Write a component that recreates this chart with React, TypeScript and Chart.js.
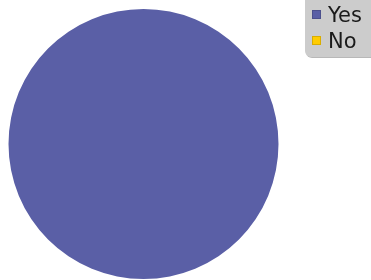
import React, { useEffect, useRef } from "react";
import { Chart, registerables } from "chart.js";

Chart.register(...registerables);

const categories = ["Yes", "No"];
const values = [100, 0];
const colors = ["#5a5fa6", "#ffcc00"];

const legendBoxPlugin = {
  id: "legendBox",
  afterDraw(chart: any) {
    const ctx = chart.ctx as CanvasRenderingContext2D;
    ctx.save();
    ctx.fillStyle = "#b8b8b8";
    ctx.beginPath();
    (ctx as any).roundRect(306, -10, 80, 68, 6);
    ctx.fill();
    ctx.fillStyle = "#cccccc";
    ctx.beginPath();
    (ctx as any).roundRect(305, -10, 80, 67, 6);
    ctx.fill();
    ctx.font = "21px 'DejaVu Sans'";
    ctx.textBaseline = "alphabetic";
    categories.forEach((label, i) => {
      const y = 10 + i * 26;
      ctx.fillStyle = colors[i];
      ctx.fillRect(312, y, 9, 9);
      ctx.strokeStyle = "rgba(0,0,0,0.15)";
      ctx.lineWidth = 1;
      ctx.strokeRect(312.5, y + 0.5, 8, 8);
      ctx.fillStyle = "#1a1a1a";
      ctx.fillText(label, 328, 22 + i * 26);
    });
    ctx.restore();
  },
};

export default function App() {
  const ref = useRef<HTMLCanvasElement>(null);
  useEffect(() => {
    document.body.style.margin = "0";
    const chart = new Chart(ref.current!, {
      type: "pie",
      data: {
        labels: categories,
        datasets: [
          {
            data: values,
            backgroundColor: colors,
            borderWidth: 0,
          },
        ],
      },
      options: {
        animation: false,
        responsive: false,
        layout: { padding: { left: 8, right: 92, top: 9, bottom: 1 } },
        plugins: {
          legend: { display: false },
          tooltip: { enabled: false },
        },
      },
      plugins: [legendBoxPlugin],
    });
    return () => chart.destroy();
  }, []);
  return <canvas ref={ref} width={371} height={280} style={{ display: "block" }} />;
}
